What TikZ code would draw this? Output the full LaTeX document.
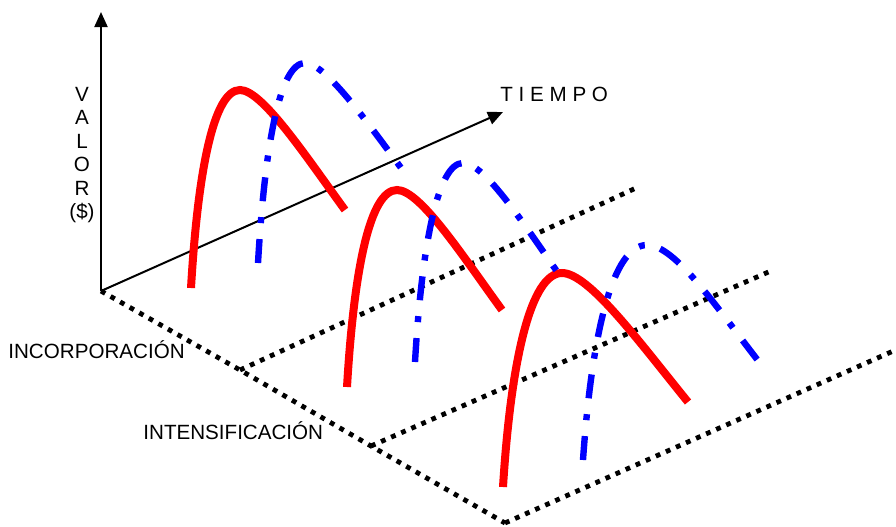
\documentclass[tikz,border=0pt]{standalone}
\usepackage{fontspec}
\setmainfont{Liberation Sans}
\usetikzlibrary{arrows.meta}

\begin{document}
\begin{tikzpicture}[
  x=0.5pt,
  y=-0.5pt,
  >={Triangle[length=7.5pt, width=6.5pt]},
  axis/.style={->, line width=1pt, draw=black},
  track/.style={line width=2.4pt, draw=black, dash pattern=on 2.4pt off 3.1pt},
  early/.style={line width=4pt, draw=red},
  late/.style={line width=3.2pt, draw=blue, dash pattern=on 12pt off 8pt on 3pt off 8pt},
  lbl/.style={anchor=base west, inner sep=0pt, font=\fontsize{10.3}{11.75}\selectfont},
]

\useasboundingbox (0,0) rectangle (896,526);

\coordinate (o) at (101,291);
\coordinate (vtop) at (101,12);
\coordinate (ttip) at (503,112);
\coordinate (k1) at (240,370);
\coordinate (k2) at (371,446);
\coordinate (k3) at (505,523);
\coordinate (e1) at (636,188);
\coordinate (e2) at (773,270);
\coordinate (e3) at (900,348);

\draw[track] (o) -- (k1) -- (k2) -- (k3);
\draw[track] (k1) -- (e1);
\draw[track] (k2) -- (e2);
\draw[track] (k3) -- (e3);

\draw[axis] (o) -- (vtop);
\draw[axis] (o) -- (ttip);

\node[lbl] (tiempo) at (500,101) {T I E M P O};
\node[anchor=center, inner sep=0pt, align=center, font=\fontsize{10.3}{11.75}\selectfont] (valor) at (82,155) {V\\A\\L\\O\\R\\(\$)};
\node[lbl] (incorp) at (8,358) {INCORPORACIÓN};
\node[lbl] (intens) at (143,439) {INTENSIFICACIÓN};

\draw[early] (191,288) .. controls (198,169) and (214,90) .. (240,90) .. controls (262,90) and (305,155) .. (345,210);
\draw[early] (347,387) .. controls (354,269) and (370,190) .. (397,190) .. controls (420,190) and (462,255) .. (502,310);
\draw[early] (503,487) .. controls (511,359) and (531,273) .. (562,273) .. controls (589,273) and (640,343) .. (688,402);

\draw[late] (258,263) .. controls (265,143) and (280,63) .. (305,63) .. controls (326,63) and (370,126) .. (410,180);
\draw[late] (415,362) .. controls (422,243) and (438,163) .. (463,163) .. controls (485,163) and (525,226) .. (563,280);
\draw[late] (583,460) .. controls (592,331) and (613,245) .. (647,245) .. controls (676,245) and (719,311) .. (763,367);

\end{tikzpicture}
\end{document}
